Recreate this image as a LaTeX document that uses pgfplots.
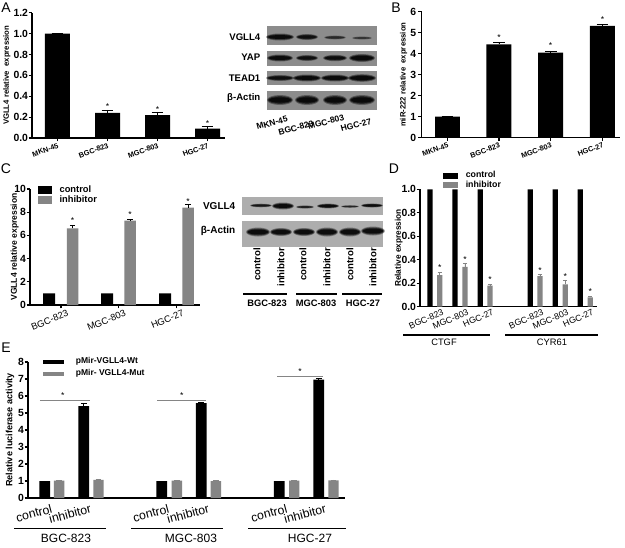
\documentclass[border=0pt]{standalone}
\usepackage{fontspec}
\setmainfont{Liberation Sans}
\usepackage{pgfplots}
\pgfplotsset{compat=1.18}
\newcommand{\band}[5]{% x y halfwidth halfheight strength
  \fill[black,opacity=0.35*#5] (#1,#2) ellipse [x radius=#3, y radius=#4];
  \fill[black,opacity=0.55*#5] (#1,#2) ellipse [x radius=#3*0.93, y radius=#4*0.78];
  \fill[black,opacity=0.75*#5] (#1,#2) ellipse [x radius=#3*0.85, y radius=#4*0.55];
}
\newcommand{\st}[2]{\node[font=\fontsize{6.5}{7}\selectfont] at (axis cs:#1,#2) {*};}
\pgfplotsset{
  panel/.style={scale only axis, clip=false, axis lines=left, axis line style={-,line width=1pt},
    enlargelimits=false, ymin=0, tick align=outside,
    major tick length=2.5pt, tick style={black,line width=0.8pt},
    xtick pos=bottom, ytick pos=left,
    /pgf/number format/fixed,/pgf/number format/assume math mode=true,
    ylabel style={at={(axis description cs:0,0.5)},anchor=center},
    y tick label style={font=\fontsize{7.8}{9}\selectfont\bfseries,inner xsep=0.3pt},
    legend cell align=left},
  onedec/.style={/pgf/number format/fixed zerofill,/pgf/number format/precision=1},
  errs/.style 2 args={error bars/.cd,y dir=plus,y explicit,error bar style={line width=0.7pt,#1},error mark options={rotate=90,mark size=#2,#1}},
  sb/.style 2 args={ybar,bar width=#1,bar shift=0pt,fill=#2,draw=none},
}
\definecolor{gb}{gray}{0.52}
\definecolor{blotA}{gray}{0.55}
\definecolor{blotC}{gray}{0.68}
\begin{document}
\begin{tikzpicture}[x=0.75pt,y=-0.75pt]
\useasboundingbox (0,0) rectangle (625,547);
\fill[white] (0,0) rectangle (625,547);
% Panel letters
\foreach \l/\x/\y in {A/6/8,B/396/8,C/6/169,D/394/169,E/6/348}
  \node[font=\fontsize{10.5}{11}\selectfont] at (\x,\y) {\l};

% ---------- A ----------
\begin{axis}[panel,onedec,at={(24pt,-103.5pt)},anchor=south west,width=144.75pt,height=94pt,
  xmin=32,xmax=225,ymax=1.2,ytick={0,0.2,0.4,0.6,0.8,1.0,1.2},
  xtick={57.5,107.5,157.5,207.5},xticklabels={MKN-45,BGC-823,MGC-803,HGC-27},
  x tick label style={font=\fontsize{5.5}{6}\selectfont\bfseries,rotate=20,anchor=east,xshift=3pt,yshift=-3pt},
  ylabel={\fontsize{5.8}{6}\selectfont\bfseries VGLL4 relative\ \ expression},
  ylabel style={yshift=18.8pt}]
\addplot[sb={25}{black},errs={black}{4.4pt}] coordinates {(57.5,1) +- (0,0) (107.5,0.24) +- (0,0.03) (157.5,0.22) +- (0,0.03) (207.5,0.09) +- (0,0.025)};
\st{107.5}{0.30} \st{157.5}{0.275} \st{207.5}{0.14}
\end{axis}

% Blot A
\fill[blotA] (267,26) rectangle (377,45);
\fill[blotA] (267,51) rectangle (377,66);
\fill[blotA] (267,71) rectangle (377,85);
\fill[blotA] (267,91) rectangle (377,110);
\band{280}{37}{14}{3.5}{1} \band{307}{37}{11}{3}{0.9} \band{335}{37.5}{11}{2}{0.6} \band{362}{38}{10}{1.6}{0.5}
\band{280}{58}{13}{3.5}{1} \band{307}{58}{11}{3}{0.9} \band{335}{58}{12}{3.2}{0.95} \band{362}{58}{13}{4}{1}
\band{280}{78}{14}{3}{0.9} \band{307}{78}{14}{3.5}{1} \band{335}{78}{14}{3.5}{1} \band{362}{78}{14}{3.8}{1}
\band{280}{100}{13}{5}{1} \band{307}{100}{12}{5}{1} \band{335}{100}{12}{5}{1} \band{362}{100}{13}{5}{1}
\foreach \t/\y in {VGLL4/37,YAP/57,TEAD1/78,β-Actin/98}
  \node[anchor=east,font=\fontsize{7.2}{8}\selectfont\bfseries] at (265,\y) {\t};
\foreach \t/\x/\y in {MKN-45/272/123,BGC-823/296/128,MGC-803/326/122,HGC-27/356/125}
  \node[rotate=15,inner sep=0pt,font=\fontsize{6.4}{7}\selectfont\bfseries] at (\x,\y) {\t};

% ---------- B ----------
\begin{axis}[panel,at={(316.275pt,-103.275pt)},anchor=south west,width=148.7pt,height=94.5pt,
  xmin=421.7,xmax=620,ymax=6,ytick={0,1,2,3,4,5,6},
  y tick label style={inner xsep=1.5pt},
  xtick={447.5,499,550.7,602.5},xticklabels={MKN-45,BGC-823,MGC-803,HGC-27},
  x tick label style={font=\fontsize{5.5}{6}\selectfont\bfseries,rotate=20,anchor=east,xshift=3pt,yshift=-3pt},
  ylabel={\fontsize{5.8}{6}\selectfont\bfseries miR-222 relative\ \ expression},
  ylabel style={yshift=13.5pt}]
\addplot[sb={25}{black},errs={black}{4.4pt}] coordinates {(447.5,1) +- (0,0) (499,4.45) +- (0,0.1) (550.7,4.05) +- (0,0.08) (602.5,5.33) +- (0,0.08)};
\st{499}{4.76} \st{550.7}{4.37} \st{602.5}{5.65}
\end{axis}

% ---------- C ----------
\begin{axis}[panel,at={(22.5pt,-228.75pt)},anchor=south west,width=127.5pt,height=87pt,
  xmin=30,xmax=200,ymax=10,ytick={0,2,4,6,8,10},
  xtick={61,118.5,176.5},xticklabels={BGC-823,MGC-803,HGC-27},
  x tick label style={font=\fontsize{7}{8}\selectfont,rotate=22,anchor=east,xshift=7pt,yshift=-5pt},
  ylabel={\fontsize{6.4}{7}\selectfont\bfseries VGLL4 relative expression},
  ylabel style={yshift=11.5pt},
  legend style={draw=none,fill=none,at={(0.047,1.034)},anchor=north west,inner sep=0pt,
    font=\fontsize{7}{8}\selectfont\bfseries,row sep=0pt,nodes={inner sep=0.5pt}},
  legend image code/.code={\fill[#1] (0pt,-2.5pt) rectangle (10.5pt,3pt);\path (15.5pt,0pt);}]
\addplot[sb={12}{black}] coordinates {(49,1) (107,1) (165,1)};
\addplot[sb={11.5}{gb},errs={black}{1.9pt}] coordinates {(72.5,6.6) +- (0,0.25) (130,7.27) +- (0,0.08) (188,8.4) +- (0,0.25)};
\legend{control,inhibitor}
\st{72.5}{7.28} \st{130}{7.76} \st{188}{8.9}
\end{axis}

% Blot C
\fill[blotC] (242,197) rectangle (383,215);
\fill[blotC] (242,221) rectangle (383,247);
\band{261}{205.5}{11}{1.8}{0.85} \band{283}{206}{11}{3.5}{1} \band{305}{207}{9}{1.6}{0.75} \band{328}{206}{11}{2.4}{1} \band{350}{206.5}{9}{1.3}{0.7} \band{372}{205.5}{11}{2}{1}
\band{258}{232}{12}{4.5}{1} \band{281}{232}{11}{4}{1} \band{304}{232}{11}{4}{1} \band{327}{232}{11}{4.5}{1} \band{350}{232}{11}{4.5}{1} \band{373}{231}{12}{4.5}{1}
\node[anchor=east,font=\fontsize{7.5}{8}\selectfont\bfseries] at (240,206) {VGLL4};
\node[anchor=east,font=\fontsize{7.5}{8}\selectfont\bfseries] at (240,231) {β-Actin};
\foreach \t/\x in {control/257,inhibitor/281,control/303,inhibitor/327,control/350,inhibitor/373}
  \node[rotate=90,anchor=east,inner sep=0pt,font=\fontsize{7.2}{8}\selectfont\bfseries] at (\x,248) {\t};
\draw[line width=0.8pt] (243,294) -- (287,294) (296,294) -- (337,294) (342,294) -- (382,294);
\foreach \t/\x in {BGC-823/267,MGC-803/316,HGC-27/363}
  \node[font=\fontsize{7}{8}\selectfont\bfseries] at (\x,303) {\t};

% ---------- D ----------
\begin{axis}[panel,onedec,at={(315pt,-230.025pt)},anchor=south west,width=132.5pt,height=88pt,
  xmin=420,xmax=596.7,ymax=1.0,ytick={0,0.2,0.4,0.6,0.8,1.0},
  xtick={435,460,485,535,560,585},xticklabels={BGC-823,MGC-803,HGC-27,BGC-823,MGC-803,HGC-27},
  extra x ticks={510},extra x tick labels={},
  x tick style={draw=none},extra x tick style={tick style={black,line width=0.8pt}},
  x tick label style={font=\fontsize{6.6}{8}\selectfont,inner sep=0.3pt,rotate=24,anchor=east,xshift=5.5pt,yshift=-3.5pt},
  ylabel={\fontsize{6.2}{7}\selectfont\bfseries Relative expression},
  ylabel style={yshift=16pt},
  legend style={draw=none,fill=none,at={(0.13,1.16)},anchor=north west,inner sep=0pt,
    font=\fontsize{6.6}{7.5}\selectfont\bfseries,row sep=0pt,nodes={inner sep=0.4pt}},
  legend image code/.code={\fill[#1] (0pt,-2.2pt) rectangle (11pt,2.2pt);\path (16.5pt,0pt);}]
\addplot[sb={5.3}{black}] coordinates {(430,1) (455,1) (480.2,1) (530.3,1) (555.3,1) (580.3,1)};
\addplot[sb={5.3}{gb},errs={gb}{1.5pt}] coordinates {(439.7,0.27) +- (0,0.02) (465,0.34) +- (0,0.03) (490,0.18) +- (0,0.015) (540,0.26) +- (0,0.02) (565.3,0.19) +- (0,0.035) (590.3,0.08) +- (0,0.01)};
\legend{control,inhibitor}
\st{439.7}{0.33} \st{465}{0.40} \st{490}{0.23} \st{540}{0.31} \st{565.3}{0.26} \st{590.3}{0.13}
\end{axis}
\draw[line width=0.8pt] (403,335) -- (490,335) (505,335) -- (598,335);
\node[font=\fontsize{7}{8}\selectfont] at (444,342) {CTGF};
\node[font=\fontsize{7}{8}\selectfont] at (552,342) {CYR61};

% ---------- E ----------
\begin{axis}[panel,at={(21pt,-373.5pt)},anchor=south west,width=237.75pt,height=102pt,
  xmin=28,xmax=345,ymax=8,ytick={0,1,2,3,4,5,6,7,8},
  xtick={52,91,169,209,287,326},xticklabels={control,inhibitor,control,inhibitor,control,inhibitor},
  extra x ticks={129,247},extra x tick labels={},
  x tick style={draw=none},extra x tick style={tick style={black,line width=0.8pt}},
  x tick label style={font=\fontsize{9.2}{10}\selectfont,rotate=15,anchor=east,xshift=2pt,yshift=-5pt},
  ylabel={\fontsize{6.8}{7.5}\selectfont\bfseries Relative luciferase activity},
  ylabel style={yshift=13.5pt},
  legend style={draw=none,fill=none,at={(0.047,1.04)},anchor=north west,inner sep=0pt,
    font=\fontsize{6.4}{7.5}\selectfont\bfseries,row sep=2pt,nodes={inner sep=0.5pt}},
  legend image code/.code={\fill[#1] (0pt,-1.5pt) rectangle (16pt,1.5pt);\path (24pt,0pt);}]
\addplot[sb={10.7}{black},errs={black}{2.2pt}] coordinates {(44.7,1) +- (0,0) (83.7,5.4) +- (0,0.15) (161.8,1) +- (0,0) (201.3,5.58) +- (0,0.03) (279.3,1) +- (0,0) (318.7,6.97) +- (0,0.05)};
\addplot[sb={10.4}{gb},errs={gb}{2.2pt}] coordinates {(59.2,1.03) +- (0,0.02) (98.5,1.07) +- (0,0.02) (176.9,1.02) +- (0,0.02) (215.8,1.0) +- (0,0.02) (294.2,1.03) +- (0,0.02) (333.5,1.04) +- (0,0.02)};
\legend{pMir-VGLL4-Wt,pMir- VGLL4-Mut}
\draw[gb,line width=0.7pt] (axis cs:40,5.75) -- (axis cs:90,5.75);
\draw[gb,line width=0.7pt] (axis cs:157,5.75) -- (axis cs:206,5.75);
\draw[gb,line width=0.7pt] (axis cs:277,7.15) -- (axis cs:323,7.15);
\st{62.7}{6.03} \st{181.7}{6.03} \st{300}{7.43}
\end{axis}
\draw[line width=0.8pt] (14,528.7) -- (106,528.7) (131,528.7) -- (223,528.7) (248,528.7) -- (346,528.7);
\foreach \t/\x in {BGC-823/66,MGC-803/191,HGC-27/310}
  \node[font=\fontsize{9}{10}\selectfont] at (\x,538) {\t};
\end{tikzpicture}
\end{document}
